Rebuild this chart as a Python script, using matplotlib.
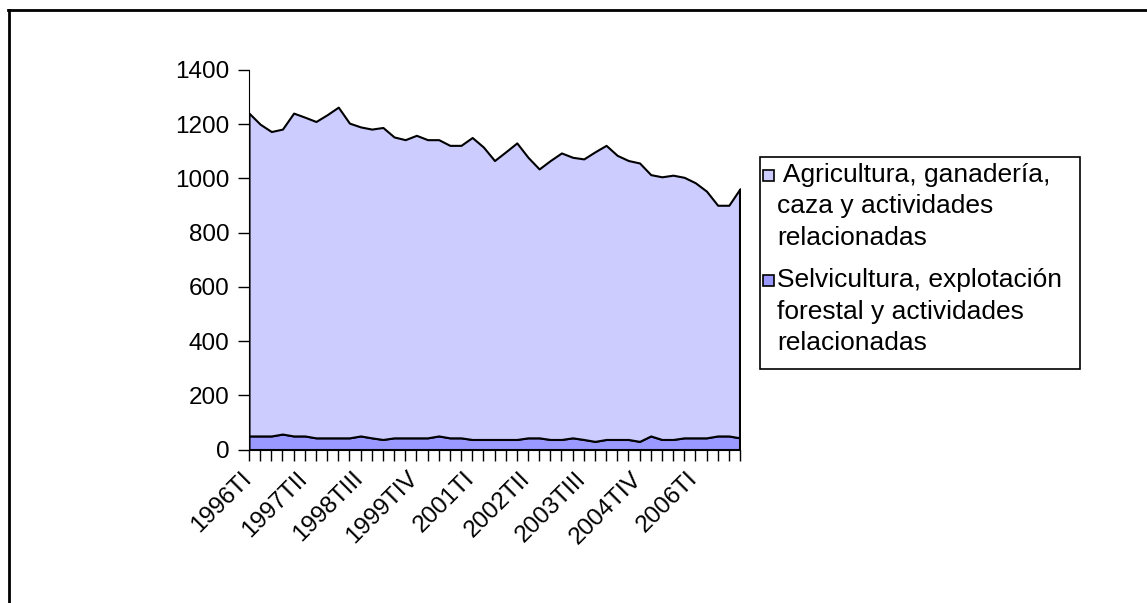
import matplotlib
matplotlib.use("Agg")
import matplotlib.pyplot as plt
import matplotlib.transforms as mtransforms
from matplotlib.patches import Rectangle
from matplotlib.lines import Line2D

# Quarterly categories 1996TI .. 2007TI
years = list(range(1996, 2008))
quarter_names = ["TI", "TII", "TIII", "TIV"]
quarters = [f"{y}{q}" for y in years for q in quarter_names][:45]

# (thousands)
total = [1241, 1200, 1173, 1182, 1241, 1226, 1210, 1235, 1263, 1204,
         1190, 1182, 1188, 1153, 1143, 1159, 1143, 1143, 1122, 1122,
         1151, 1116, 1066, 1098, 1131, 1078, 1035, 1066, 1094, 1078,
         1072, 1098, 1122, 1085, 1066, 1057, 1014, 1006, 1012, 1004,
         984, 953, 901, 901, 962]
selvicultura = [50, 50, 50, 57, 50, 50, 43, 43, 43, 43,
                50, 43, 37, 43, 43, 43, 43, 50, 43, 43,
                37, 37, 37, 37, 37, 43, 43, 37, 37, 43,
                37, 30, 37, 37, 37, 30, 50, 37, 37, 43,
                43, 43, 50, 50, 43]
agricultura = [t - s for t, s in zip(total, selvicultura)]

labels = [[" Agricultura, ganadería,", "caza y actividades", "relacionadas"],
          ["Selvicultura, explotación", "forestal y actividades", "relacionadas"]]
colors = ["#CCCCFF", "#9999FF"]

plt.rcParams["font.family"] = ["Liberation Sans", "DejaVu Sans"]

W, H = 1147, 603


def fx(px):
    return px / W


def fy(py):
    return 1 - py / H


fig = plt.figure(figsize=(W / 100, H / 100), dpi=100)
ax = fig.add_axes([fx(249), fy(449.5), 491 / W, 379.5 / H])

x = list(range(len(quarters)))
ax.stackplot(x, selvicultura, agricultura, colors=[colors[1], colors[0]],
             edgecolor="black", linewidth=1.5)
# close the right edge like the original
ax.vlines(x[-1], 0, total[-1], color="black", linewidth=1.5)

ax.set_xlim(0, len(quarters) - 1)
ax.set_ylim(0, 1400)
ax.set_yticks(range(0, 1401, 200))
ax.set_xticks(x, minor=True)
ax.set_xticks(x[::5])
ax.set_xticklabels(quarters[::5], rotation=45, ha="right", rotation_mode="anchor")

for side in ("top", "right"):
    ax.spines[side].set_visible(False)
ax.tick_params(axis="y", labelsize=17.5, length=8, width=1, pad=6)
ax.tick_params(axis="x", which="both", labelsize=17.5, length=8, width=1, pad=5)

# nudge the slanted labels so their right end sits at the tick
shift = mtransforms.ScaledTranslation(-0.09, 0, fig.dpi_scale_trans)
for lab in ax.get_xticklabels():
    lab.set_transform(lab.get_transform() + shift)

# legend drawn by hand so the swatch sits on the first line of each entry
fig.add_artist(Rectangle((fx(760), fy(369)), fx(1080) - fx(760), fy(157) - fy(369),
                         transform=fig.transFigure, facecolor="white",
                         edgecolor="black", linewidth=1.2))
entry_tops = [175, 280]
for color, lines, y0 in zip(colors, labels, entry_tops):
    fig.add_artist(Rectangle((fx(763), fy(y0 + 6)), 11 / W, 11 / H,
                             transform=fig.transFigure, facecolor=color,
                             edgecolor="black", linewidth=1.2))
    for k, line in enumerate(lines):
        fig.text(fx(777), fy(y0 + 31.5 * k), line, fontsize=19,
                 ha="left", va="center")

# outer frame (left and top edges visible)
fig.add_artist(Line2D([fx(9), fx(9)], [0, fy(10)],
                      transform=fig.transFigure, color="black", linewidth=2))
fig.add_artist(Line2D([fx(8), 1], [fy(10), fy(10)],
                      transform=fig.transFigure, color="black", linewidth=2))

fig.savefig("out.png", dpi=100)
